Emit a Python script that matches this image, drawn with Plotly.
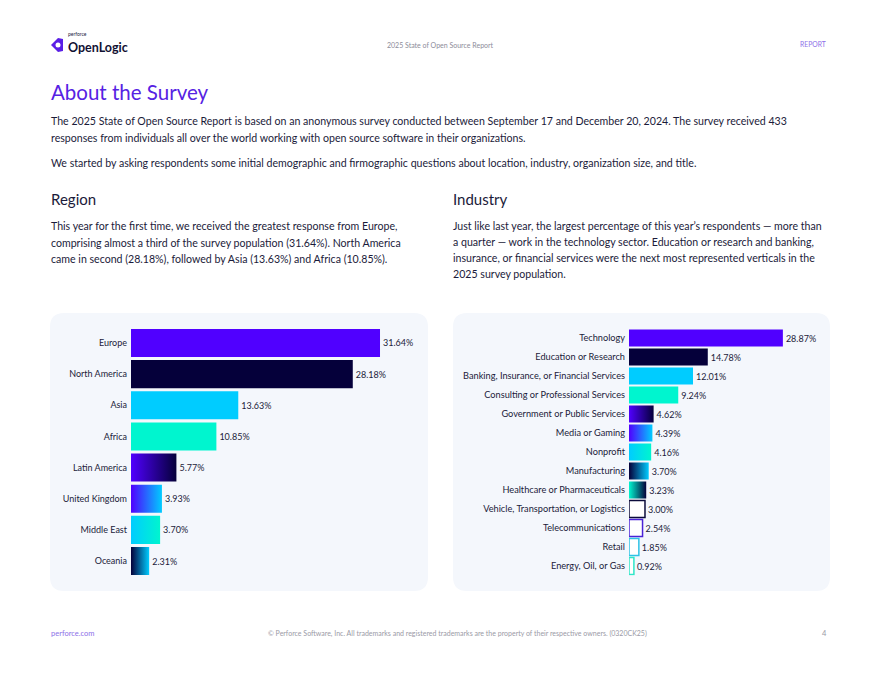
import plotly.graph_objects as go

# ---------------- data ----------------
regions = ["Europe", "North America", "Asia", "Africa", "Latin America",
           "United Kingdom", "Middle East", "Oceania"]
region_values = [31.64, 28.18, 13.63, 10.85, 5.77, 3.93, 3.70, 2.31]

industries = ["Technology", "Education or Research",
              "Banking, Insurance, or Financial Services",
              "Consulting or Professional Services",
              "Government or Public Services", "Media or Gaming", "Nonprofit",
              "Manufacturing", "Healthcare or Pharmaceuticals",
              "Vehicle, Transportation, or Logistics", "Telecommunications",
              "Retail", "Energy, Oil, or Gas"]
industry_values = [28.87, 14.78, 12.01, 9.24, 4.62, 4.39, 4.16, 3.70, 3.23,
                   3.00, 2.54, 1.85, 0.92]

# ---------------- styles ----------------
PURPLE = "#5000FF"
NAVY = "#05003A"
CYAN = "#00CCFF"
MINT = "#00F5CF"
TEXT = "#1B1B3A"
FONT = "Lato"

region_styles = [("solid", PURPLE), ("solid", NAVY), ("solid", CYAN), ("solid", MINT),
                 ("grad", PURPLE, NAVY), ("grad", PURPLE, CYAN), ("grad", CYAN, MINT),
                 ("grad", NAVY, CYAN)]
industry_styles = [("solid", PURPLE), ("solid", NAVY), ("solid", CYAN), ("solid", MINT),
                   ("grad", PURPLE, NAVY), ("grad", PURPLE, CYAN), ("grad", CYAN, MINT),
                   ("grad", NAVY, CYAN), ("grad", MINT, NAVY),
                   ("outline", "#0B0B3B"), ("outline", "#4A22D6"),
                   ("outline", "#2EC2E6"), ("outline", "#2EE6C8")]

W, H = 880, 680
OFF = 8  # page body margin of the browser


def px(x):
    return (x - OFF) / W


def py(y):
    return 1 - (y - OFF) / H


fig = go.Figure()


def add_chart(names, values, styles, xa, ya, value_size):
    colors, lcolors, lwidths = [], [], []
    for s in styles:
        if s[0] == "solid":
            colors.append(s[1]); lcolors.append("rgba(0,0,0,0)"); lwidths.append(0)
        elif s[0] == "grad":
            colors.append("rgba(0,0,0,0)"); lcolors.append("rgba(0,0,0,0)"); lwidths.append(0)
        else:
            colors.append("#FFFFFF"); lcolors.append(s[1]); lwidths.append(1.5)
    idx = list(range(len(names)))
    fig.add_trace(go.Bar(
        x=values, y=idx, orientation="h", width=0.9,
        marker=dict(color=colors, line=dict(color=lcolors, width=lwidths)),
        texttemplate="%{x:.2f}%", textposition="outside",
        textfont=dict(family=FONT, size=value_size, color=TEXT),
        cliponaxis=False, xaxis=xa, yaxis=ya, hoverinfo="skip", showlegend=False))
    for i, (v, s) in enumerate(zip(values, styles)):
        if s[0] != "grad":
            continue
        fig.add_trace(go.Scatter(
            x=[0, v, v, 0, 0], y=[i - 0.45, i - 0.45, i + 0.45, i + 0.45, i - 0.45],
            mode="lines", line=dict(width=0), fill="toself",
            fillgradient=dict(type="horizontal", colorscale=[[0, s[1]], [1, s[2]]]),
            xaxis=xa, yaxis=ya, hoverinfo="skip", showlegend=False))


add_chart(regions, region_values, region_styles, "x", "y", 9)
add_chart(industries, industry_values, industry_styles, "x2", "y2", 9)

n1, n2 = len(regions), len(industries)
# pixel geometry of the plot areas
L_top, L_bot = 327.4, 576.6
R_top, R_bot = 328.5, 575.5

fig.update_layout(
    width=W, height=H, margin=dict(l=0, r=0, t=0, b=0),
    paper_bgcolor="white", plot_bgcolor="rgba(0,0,0,0)",
    font=dict(family=FONT, color=TEXT),
    xaxis=dict(domain=[px(131), px(428)], range=[0, 297 / 7.87], visible=False),
    yaxis=dict(domain=[py(L_bot), py(L_top)], range=[n1 - 0.5, -0.5],
               tickvals=list(range(n1)), ticktext=regions,
               tickfont=dict(family=FONT, size=9, color=TEXT),
               showgrid=False, zeroline=False, showline=False, ticks="",
               ticklabelstandoff=3),
    xaxis2=dict(domain=[px(629), px(830)], range=[0, 201 / 5.33], visible=False,
                anchor="y2"),
    yaxis2=dict(domain=[py(R_bot), py(R_top)], range=[n2 - 0.5, -0.5],
                tickvals=list(range(n2)), ticktext=industries, anchor="x2",
                tickfont=dict(family=FONT, size=9.2, color=TEXT),
                showgrid=False, zeroline=False, showline=False, ticks="",
                ticklabelstandoff=3),
)


def rounded_rect(x0, y0, x1, y1, r):
    rx, ry = r / W, r / H
    X0, X1 = px(x0), px(x1)
    Y0, Y1 = py(y0), py(y1)  # Y0 top (larger)
    return (f"M {X0+rx},{Y0} L {X1-rx},{Y0} Q {X1},{Y0} {X1},{Y0-ry} "
            f"L {X1},{Y1+ry} Q {X1},{Y1} {X1-rx},{Y1} L {X0+rx},{Y1} "
            f"Q {X0},{Y1} {X0},{Y1+ry} L {X0},{Y0-ry} Q {X0},{Y0} {X0+rx},{Y0} Z")


shapes = [
    dict(type="path", xref="paper", yref="paper", path=rounded_rect(50, 313, 428, 591, 14),
         fillcolor="#F4F7FC", line=dict(width=0), layer="below"),
    dict(type="path", xref="paper", yref="paper", path=rounded_rect(453, 313, 830, 591, 14),
         fillcolor="#F4F7FC", line=dict(width=0), layer="below"),
    # logo icon
    dict(type="path", xref="paper", yref="paper",
         path=(f"M {px(51)},{py(45)} L {px(58)},{py(38)} L {px(63)},{py(39)} "
               f"L {px(63)},{py(51)} L {px(58)},{py(52)} Z"),
         fillcolor="#5A1FE6", line=dict(width=0)),
    dict(type="circle", xref="paper", yref="paper",
         x0=px(55.5), x1=px(60.5), y0=py(47.5), y1=py(42.5),
         fillcolor="white", line=dict(width=0)),
]

ann = []


def text(x, y, s, size, color=TEXT, xanchor="left", family=FONT, bold=False):
    if bold:
        s = f"<b>{s}</b>"
    ann.append(dict(x=px(x), y=py(y), xref="paper", yref="paper", text=s,
                    showarrow=False, xanchor=xanchor, yanchor="middle",
                    font=dict(family=family, size=size, color=color)))


# header
text(66, 34.5, "perforce", 5, "#222244")
text(65.5, 47, "OpenLogic", 12.5, "#111133", bold=True)
text(440, 45, "2025 State of Open Source Report", 7, "#8C8C99", xanchor="center")
text(813, 43.5, "REPORT", 6.8, "#8D6FE8", xanchor="center")

# title and intro
text(49, 92, "About the Survey", 20.5, "#5622E3")
text(49, 121, "The 2025 State of Open Source Report is based on an anonymous survey conducted "
              "between September 17 and December 20, 2024. The survey received 433", 10.6)
text(49, 138, "responses from individuals all over the world working with open source "
              "software in their organizations.", 10.6)
text(49, 163, "We started by asking respondents some initial demographic and firmographic "
              "questions about location, industry, organization size, and title.", 10.6)

# section headings
text(49, 199, "Region", 15)
text(451, 199, "Industry", 15)

region_lines = [
    "This year for the first time, we received the greatest response from Europe,",
    "comprising almost a third of the survey population (31.64%). North America",
    "came in second (28.18%), followed by Asia (13.63%) and Africa (10.85%).",
]
for k, line in enumerate(region_lines):
    text(49, 226 + k * 16.5, line, 10.6)

industry_lines = [
    "Just like last year, the largest percentage of this year’s respondents — more than",
    "a quarter — work in the technology sector. Education or research and banking,",
    "insurance, or financial services were the next most represented verticals in the",
    "2025 survey population.",
]
for k, line in enumerate(industry_lines):
    text(451, 226 + k * 16, line, 10.6)

# footer
text(49, 633, "perforce.com", 7.5, "#8D6FE8")
text(457, 633, "© Perforce Software, Inc. All trademarks and registered trademarks are the "
               "property of their respective owners. (0320CK25)", 7, "#9A9AA6", xanchor="center")
text(829, 633, "4", 7.5, "#9A9AA6", xanchor="right")

fig.update_layout(shapes=shapes, annotations=ann)

fig.write_html("out.html")
